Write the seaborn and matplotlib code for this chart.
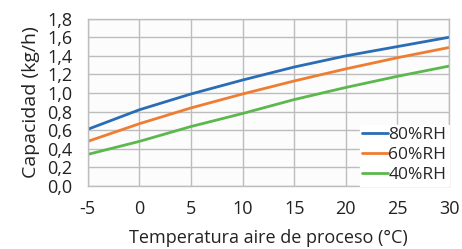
import matplotlib
matplotlib.use("Agg")
import matplotlib.pyplot as plt
import pandas as pd
import seaborn as sns

# Data
temps = [-5, 0, 5, 10, 15, 20, 25, 30]
rh80 = [0.61, 0.82, 0.99, 1.14, 1.28, 1.40, 1.50, 1.60]
rh60 = [0.48, 0.67, 0.84, 0.99, 1.13, 1.26, 1.38, 1.49]
rh40 = [0.34, 0.48, 0.64, 0.78, 0.93, 1.06, 1.18, 1.29]
series_names = ["80%RH", "60%RH", "40%RH"]
colors = ["#2a6db5", "#ee7d31", "#5cb84e"]
xticks = [-5, 0, 5, 10, 15, 20, 25, 30]
yticks = [0.0, 0.2, 0.4, 0.6, 0.8, 1.0, 1.2, 1.4, 1.6, 1.8]

df = pd.DataFrame({"temp": temps * 3,
                   "cap": rh80 + rh60 + rh40,
                   "serie": sum([[n] * len(temps) for n in series_names], [])})

sns.set_style("white")
plt.rcParams["font.family"] = ["Open Sans", "DejaVu Sans"]
plt.rcParams["axes.unicode_minus"] = False

fig, ax = plt.subplots(figsize=(4.62, 2.49), dpi=100)
fig.subplots_adjust(left=0.19, right=0.972, top=0.925, bottom=0.253)

sns.lineplot(data=df, x="temp", y="cap", hue="serie", hue_order=series_names,
             palette=colors, linewidth=2, ax=ax)

ax.set_xlim(-5, 30)
ax.set_ylim(0, 1.8)
ax.set_xticks(xticks)
ax.set_yticks(yticks)
ax.set_yticklabels([f"{v:.1f}".replace(".", ",") for v in yticks])
ax.tick_params(axis="both", labelsize=13, length=0, colors="#222222")
ax.tick_params(axis="x", pad=10)
ax.tick_params(axis="y", pad=11)
ax.grid(True, color="#bdbdbd", linewidth=1)
ax.set_facecolor("#fcfcfc")
for s in ax.spines.values():
    s.set_color("#bdbdbd")
    s.set_linewidth(1)

ax.set_xlabel("Temperatura aire de proceso (°C)", fontsize=13, color="#222222", labelpad=8)
ax.set_ylabel("Capacidad (kg/h)", fontsize=14, color="#222222", labelpad=5)

leg = ax.legend(loc="lower right", fontsize=12.5, frameon=True, fancybox=False,
                handlelength=1.5, handletextpad=0.0, labelspacing=0.22,
                borderpad=0.15, borderaxespad=0.0)
leg.get_frame().set_facecolor("white")
leg.get_frame().set_edgecolor("white")
leg.get_frame().set_alpha(1)
leg.set_title(None)

fig.savefig("out.png", dpi=100)
